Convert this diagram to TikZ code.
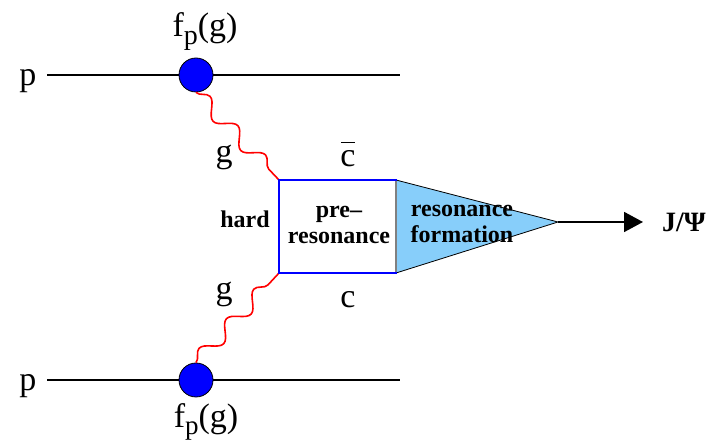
\documentclass[tikz,border=0pt]{standalone}
\usepackage{fontspec}
\setmainfont{Liberation Serif}
\usetikzlibrary{arrows.meta,decorations.pathmorphing,calc}
\definecolor{triblue}{RGB}{135,206,250}
\begin{document}
\begin{tikzpicture}[x=1pt,y=-1pt,
  lbl/.style={font=\fontsize{34}{38}\selectfont, inner sep=0pt},
  blbl/.style={font=\bfseries\fontsize{24}{28}\selectfont, inner sep=0pt, align=center},
  pline/.style={line width=1.8pt},
  blob/.style={circle, fill=blue, draw=black, line width=0.8pt, minimum size=34pt, inner sep=0pt},
  gluon/.style={red, line width=1.6pt, line join=round, decorate, decoration={snake, amplitude=7.5pt, segment length=40.3pt}}]
\useasboundingbox (0,0) rectangle (716,443);
% proton lines
\node[lbl, anchor=base] (p1) at (28,86) {p};
\node[lbl, anchor=base] (p2) at (28,391) {p};
\coordinate (l1s) at (47,75); \coordinate (l1e) at (400,75);
\coordinate (l2s) at (47,380); \coordinate (l2e) at (400,380);
\draw[pline] (l1s) -- (l1e);
\draw[pline] (l2s) -- (l2e);
% box and triangle corners
\coordinate (tl) at (279,180); \coordinate (tr) at (396,180);
\coordinate (bl) at (279,273); \coordinate (br) at (396,273);
\coordinate (apex) at (558,222);
% gluons
\node[blob] (c1) at (196,75) {};
\node[blob] (c2) at (196,380) {};
\draw[gluon] (c1.south) -- (tl);
\draw[gluon] (c2.north) -- (bl);
% triangle
\draw[fill=triblue, draw=black, line width=0.8pt] (tr) -- (apex) -- (br) -- cycle;
\draw[gray, line width=1.5pt] (tr) -- (br);
\draw[blue, line width=2.2pt, line cap=rect] (tr) -- (tl) -- (bl) -- (br);
% arrow
\node[font=\bfseries\fontsize{28}{32}\selectfont, inner sep=0pt] (jpsi) at (684,222) {J/Ψ};
\coordinate (aend) at (643,222);
\draw[line width=1.8pt, -{Triangle[length=19pt,width=20pt]}] (apex) -- (aend);
% labels
\node[lbl, anchor=base] (f1) at (205,37) {f\raisebox{-8pt}{\fontsize{28}{30}\selectfont p}(g)};
\node[lbl, anchor=base] (f2) at (206,428) {f\raisebox{-7pt}{\fontsize{27}{30}\selectfont p}(g)};
\node[lbl, anchor=base] (g1) at (224,163) {g};
\node[lbl, anchor=base] (g2) at (224,300) {g};
\node[lbl, anchor=base] (cb) at (348,167) {\rlap{\hspace{0.5pt}\raisebox{24pt}{\rule{14pt}{1.3pt}}}c};
\node[lbl, anchor=base] (cc) at (348,308) {c};
\node[blbl, anchor=base] (hard) at (245,228) {hard};
\node[blbl] (pre) at (339,225) {pre–\\[-2pt]resonance};
\node[blbl] (form) at (462,224) {resonance\\[-2pt]formation};
\end{tikzpicture}
\end{document}
